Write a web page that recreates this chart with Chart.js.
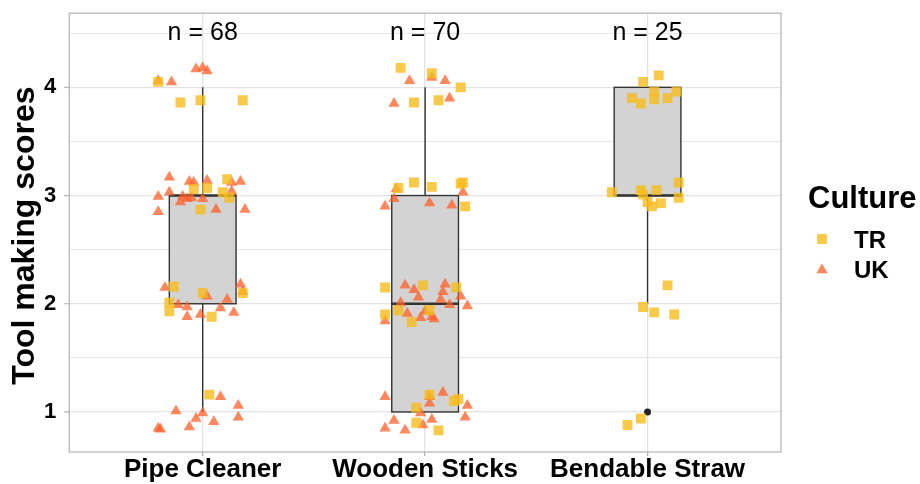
<!DOCTYPE html>
<html>
<head>
<meta charset="utf-8">
<script src="https://cdn.jsdelivr.net/npm/chart.js@4.4.1/dist/chart.umd.min.js"></script>
<style>
  html, body { margin: 0; padding: 0; background: #fff; }
  #wrap { width: 920px; height: 484px; }
</style>
</head>
<body>
<div id="wrap"><canvas id="chart"></canvas></div>
<script>
// Categories and box summaries
const categories = ['Pipe Cleaner', 'Wooden Sticks', 'Bendable Straw'];
const nLabels = ['n = 68', 'n = 70', 'n = 25'];
const boxQ1 = [2, 1, 3];
const boxMedian = [3, 2, 3];
const boxQ3 = [3, 3, 4];
const whiskerLow = [1, 1, 2];
const whiskerHigh = [4, 4, 4];
const outliers = [[], [], [1]];
const yTicks = [1, 1.5, 2, 2.5, 3, 3.5, 4, 4.5];

// Jittered points: [x offset from category, score]
const trPipe = [[-0.20,4.05],[-0.10,3.86],[-0.01,3.88],[0.18,3.88],[0.11,3.15],[-0.04,3.06],[0.02,3.07],
  [0.09,3.03],[0.12,2.98],[-0.01,2.87],[-0.13,2.16],[0.00,2.10],[0.18,2.10],[-0.15,2.01],[-0.15,1.93],
  [0.04,1.88],[0.03,1.16]];
const ukPipe = [[-0.03,4.17],[0.00,4.18],[0.02,4.15],[-0.20,4.06],[-0.14,4.05],[-0.15,3.17],[-0.06,3.13],
  [-0.04,3.12],[0.02,3.14],[0.13,3.12],[0.17,3.13],[-0.20,2.99],[-0.15,3.03],[-0.09,2.99],[-0.07,2.97],
  [-0.05,2.98],[0.00,2.97],[0.13,3.04],[-0.10,2.94],[0.06,2.87],[0.19,2.87],[-0.20,2.85],[-0.17,2.15],
  [0.02,2.07],[0.17,2.18],[0.18,2.11],[-0.11,1.99],[-0.07,1.97],[-0.01,1.90],[0.08,1.96],[0.11,2.04],
  [0.14,1.92],[-0.07,1.88],[0.08,1.14],[-0.12,1.01],[0.16,1.06],[0.00,0.99],[-0.03,0.94],[0.05,0.91],
  [-0.06,0.86],[0.16,0.95],[-0.20,0.85],[-0.19,0.84]];
const trWood = [[-0.11,4.18],[0.03,4.13],[0.16,4.00],[-0.05,3.86],[0.06,3.88],[-0.12,3.07],[-0.05,3.12],
  [0.03,3.08],[0.16,3.11],[0.17,3.12],[0.18,2.90],[-0.18,2.15],[-0.01,2.17],[0.14,2.15],[-0.12,1.94],
  [-0.06,1.83],[0.02,1.94],[-0.18,1.90],[0.02,1.16],[0.13,1.10],[0.15,1.12],[-0.04,1.04],[-0.04,0.90],
  [0.06,0.83]];
const ukWood = [[0.03,4.09],[-0.07,4.06],[0.09,4.06],[-0.14,3.85],[0.11,3.90],[-0.13,3.06],[-0.14,2.97],
  [-0.18,2.90],[0.02,2.93],[0.12,2.91],[0.17,3.03],[-0.09,2.17],[-0.05,2.13],[-0.03,2.06],[-0.11,2.01],
  [0.09,2.18],[0.08,2.11],[0.16,2.07],[0.07,2.04],[0.11,1.99],[0.19,1.98],[-0.08,1.91],[0.00,1.93],
  [-0.02,1.87],[0.03,1.88],[0.04,1.86],[-0.18,1.84],[-0.18,1.14],[0.02,1.14],[0.02,1.08],[0.08,1.18],
  [-0.02,0.99],[-0.01,0.88],[-0.14,0.92],[-0.18,0.85],[-0.09,0.83],[0.03,0.93],[0.19,1.06],[0.18,0.95]];
const trStraw = [[0.05,4.11],[-0.02,4.05],[-0.07,3.90],[-0.03,3.85],[0.03,3.96],[0.03,3.89],[0.09,3.90],
  [0.13,3.96],[-0.16,3.03],[-0.03,3.05],[0.04,3.05],[0.14,3.12],[-0.02,3.01],[0.00,2.94],[0.06,2.93],
  [0.02,2.90],[0.14,2.98],[0.09,2.17],[-0.02,1.97],[0.03,1.92],[0.12,1.90],[-0.03,0.94],[-0.09,0.88]];
const ukStraw = [];

const trColor = 'rgba(248, 188, 28, 0.8)';
const ukColor = 'rgba(255, 95, 40, 0.75)';
const boxHalf = 0.15;
const fontFamily = '"Liberation Sans", Arial, sans-serif';

function toPoints(list, catIndex) {
    return list.map(p => ({ x: catIndex + p[0], y: p[1] }));
}

const trData = [].concat(toPoints(trPipe, 0), toPoints(trWood, 1), toPoints(trStraw, 2));
const ukData = [].concat(toPoints(ukPipe, 0), toPoints(ukWood, 1), toPoints(ukStraw, 2));

// Boxes, whiskers and n labels drawn through the chart scales
const boxPlugin = {
    id: 'boxes',
    beforeDatasetsDraw(chart) {
        const ctx = chart.ctx;
        const xs = chart.scales.x;
        const ys = chart.scales.y;
        ctx.save();
        categories.forEach((c, i) => {
            const cx = xs.getPixelForValue(i);
            const left = xs.getPixelForValue(i - boxHalf);
            const right = xs.getPixelForValue(i + boxHalf);
            const top = ys.getPixelForValue(boxQ3[i]);
            const bottom = ys.getPixelForValue(boxQ1[i]);
            ctx.strokeStyle = '#333333';
            ctx.lineWidth = 1.4;
            // whiskers
            ctx.beginPath();
            ctx.moveTo(cx, ys.getPixelForValue(whiskerHigh[i]));
            ctx.lineTo(cx, top);
            ctx.moveTo(cx, bottom);
            ctx.lineTo(cx, ys.getPixelForValue(whiskerLow[i]));
            ctx.stroke();
            // box
            ctx.fillStyle = '#D3D3D3';
            ctx.fillRect(left, top, right - left, bottom - top);
            ctx.strokeRect(left, top, right - left, bottom - top);
            // median
            ctx.lineWidth = 2.4;
            ctx.beginPath();
            const my = ys.getPixelForValue(boxMedian[i]);
            ctx.moveTo(left, my);
            ctx.lineTo(right, my);
            ctx.stroke();
            // outliers
            ctx.fillStyle = '#222222';
            outliers[i].forEach(v => {
                ctx.beginPath();
                ctx.arc(cx, ys.getPixelForValue(v), 3.5, 0, Math.PI * 2);
                ctx.fill();
            });
        });
        ctx.restore();
    },
    afterDraw(chart) {
        const ctx = chart.ctx;
        const xs = chart.scales.x;
        const ys = chart.scales.y;
        const area = chart.chartArea;
        ctx.save();
        // panel border
        ctx.strokeStyle = '#B3B3B3';
        ctx.lineWidth = 1.2;
        ctx.strokeRect(area.left, area.top, area.right - area.left, area.bottom - area.top);
        // short y tick marks
        ctx.beginPath();
        yTicks.filter(v => v % 1 === 0).forEach(v => {
            const py = ys.getPixelForValue(v);
            ctx.moveTo(area.left - 5, py);
            ctx.lineTo(area.left, py);
        });
        ctx.stroke();
        // n labels
        ctx.fillStyle = '#000';
        ctx.font = '25px ' + fontFamily;
        ctx.textAlign = 'center';
        ctx.textBaseline = 'middle';
        nLabels.forEach((t, i) => {
            ctx.fillText(t, xs.getPixelForValue(i), ys.getPixelForValue(4.5));
        });
        // y title
        ctx.save();
        ctx.translate(25, (area.top + area.bottom) / 2 + 3);
        ctx.rotate(-Math.PI / 2);
        ctx.font = 'bold 32px ' + fontFamily;
        ctx.fillText('Tool making scores', 0, 0);
        ctx.restore();
        // legend
        const lx = area.right + 27;
        ctx.textAlign = 'left';
        ctx.font = 'bold 31px ' + fontFamily;
        ctx.fillText('Culture', lx, 199);
        ctx.font = 'bold 24px ' + fontFamily;
        ctx.fillText('TR', lx + 46, 241);
        ctx.fillText('UK', lx + 46, 271);
        ctx.fillStyle = trColor;
        Chart.helpers.drawPoint(ctx, { pointStyle: 'rect', radius: 7, rotation: 0, borderWidth: 0 }, lx + 14, 239);
        ctx.fillStyle = ukColor;
        Chart.helpers.drawPoint(ctx, { pointStyle: 'triangle', radius: 6.5, rotation: 0, borderWidth: 0 }, lx + 14, 270);
        ctx.restore();
    }
};

new Chart(document.getElementById('chart'), {
    type: 'scatter',
    data: {
        datasets: [
            {
                label: 'TR',
                data: trData,
                pointStyle: 'rect',
                pointRadius: 7,
                backgroundColor: trColor,
                borderWidth: 0
            },
            {
                label: 'UK',
                data: ukData,
                pointStyle: 'triangle',
                pointRadius: 6.5,
                backgroundColor: ukColor,
                borderWidth: 0
            }
        ]
    },
    options: {
        responsive: true,
        maintainAspectRatio: false,
        animation: false,
        layout: { padding: { top: 0, right: 139, left: 44, bottom: 0 } },
        plugins: {
            legend: { display: false },
            tooltip: { enabled: false }
        },
        scales: {
            x: {
                type: 'linear',
                min: -0.6,
                max: 2.6,
                afterBuildTicks: axis => { axis.ticks = categories.map((c, i) => ({ value: i })); },
                ticks: {
                    autoSkip: false,
                    maxRotation: 0,
                    padding: 1,
                    color: '#000',
                    font: { family: fontFamily, size: 26, weight: 'bold', lineHeight: 1 },
                    callback: v => categories[v]
                },
                grid: { color: '#E3E3E3', lineWidth: 1.3, tickLength: 4, tickColor: '#B3B3B3' },
                border: { display: false }
            },
            y: {
                min: 0.63,
                max: 4.685,
                afterBuildTicks: axis => { axis.ticks = yTicks.map(v => ({ value: v })); },
                ticks: {
                    autoSkip: false,
                    padding: 0,
                    color: '#000',
                    font: { family: fontFamily, size: 22, weight: 'bold' },
                    callback: v => (v % 1 === 0 ? String(v) : '')
                },
                grid: {
                    color: '#E3E3E3',
                    lineWidth: c => (c.tick && c.tick.value % 1 === 0 ? 1.3 : 0.9),
                    tickLength: 13,
                    tickColor: 'rgba(0,0,0,0)'
                },
                border: { display: false }
            }
        }
    },
    plugins: [boxPlugin]
});
</script>
</body>
</html>
